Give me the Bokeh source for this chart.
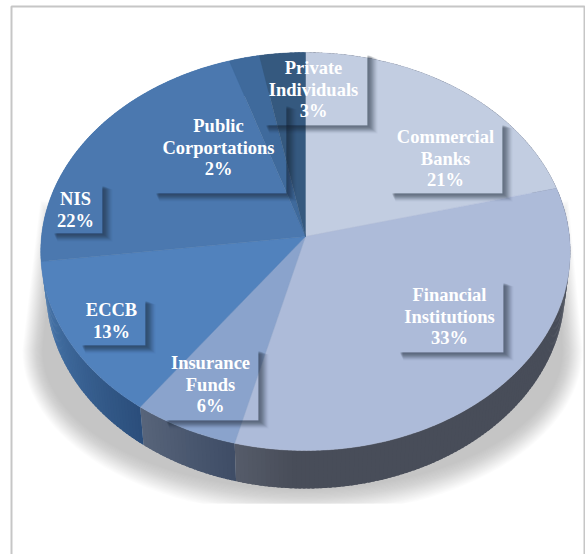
import math
from bokeh.plotting import figure
from bokeh.core.properties import value
from bokeh.embed import file_html
from bokeh.resources import INLINE

# Data
categories = ["Commercial\nBanks", "Financial\nInstitutions", "Insurance\nFunds", "ECCB", "NIS",
              "Public\nCorportations", "Private\nIndividuals"]
shares = [21, 33, 6, 13, 22, 2, 3]

# Styles
top_colors = ["#c2cde1", "#adbbd9", "#8aa3cc", "#5182bd", "#4b78af", "#3f6a9c", "#35597f"]
wall_colors = [("#484d59", "#484d59"), ("#484d59", "#565c6a"), ("#3e4d66", "#58647a"),
               ("#2b4e7b", "#4c7cb2"), ("#4c7cb2", "#4c7cb2"), ("#3f6a9c", "#3f6a9c"), ("#35597f", "#35597f")]

# Layout: label boxes (left, right, top, bottom) and text centre x, first line y
boxes = [(388, 502, 122, 193), (396, 503, 280, 352), (162, 258, 348, 420), (78, 145, 298, 345),
         (50, 102, 183, 233), (152, 286, 103, 193), (262, 367, 52, 125)]
text_pos = [(445, 136.5), (449, 294.5), (210, 362.5), (111, 309.5), (75, 198.5), (218, 125.5), (313, 67.5)]
line_step = 21.6
W, H = 585, 554
CX, CY, A, B, K = 305, 236, 264, 197.9, 0.0754
DEPTH, WALL_SCALE = 38, 0.98


def rim(frac):
    th = 2 * math.pi * frac
    sx, cy = math.sin(th), math.cos(th)
    d = 1 + K * cy
    return CX + A * sx / d, CY - B * cy / d


def rim_low(frac):
    x, y = rim(frac)
    return CX + (x - CX) * WALL_SCALE, y + DEPTH


def mix(c1, c2, t):
    a = [int(c1[i:i + 2], 16) for i in (1, 3, 5)]
    b = [int(c2[i:i + 2], 16) for i in (1, 3, 5)]
    return "#%02x%02x%02x" % tuple(round(u + (v - u) * t) for u, v in zip(a, b))


p = figure(width=W, height=H, x_range=(0, W), y_range=(H, 0), output_backend="svg", toolbar_location=None,
           x_axis_location=None, y_axis_location=None, min_border=0, outline_line_color=None,
           background_fill_color="white", border_fill_color="white")
p.grid.visible = False
p.styles = {"position": "absolute", "left": "0px", "top": "0px"}

# Frame
p.line([11, 11, 584, 584], [H, 6, 6, H], line_color="#c6c6c6", line_width=2)

# Soft shadow under the pie
layers = 22
for i in range(layers):
    t = i / (layers - 1)
    rx, ry = 280 - 20 * t, 165 - 26 * t
    xs, ys = [], []
    xs.append(40 + 14 * t); ys.append(200 + 30 * t)
    for k in range(61):
        phi = math.pi - math.pi * k / 60
        xs.append(302 + rx * math.cos(phi))
        ys.append(min(503, 350 + ry * math.sin(phi)))
    xs.append(568 - 12 * t); ys.append(200 + 30 * t)
    p.patch(xs, ys, fill_color="#808080", fill_alpha=0.022, line_color=None)

total = sum(shares)
# Side wall, split into gradient steps that overlap so no seams show
cum = 0
for s, (c0, c1) in zip(shares, wall_colors):
    f0, f1 = cum / total, (cum + s) / total
    n = s * 4
    step = (f1 - f0) / n
    for k in range(n):
        a = f0 + step * k
        b = min(f1, a + step * 1.6)
        tt = (k + .5) / n
        if s == 33:
            tt = max(0, (tt - .9) / .1)
        pts = [a + (b - a) * j / 3 for j in range(4)]
        up = [rim(v) for v in pts]
        lo = [rim_low(v) for v in reversed(pts)]
        p.patch([q[0] for q in up + lo], [q[1] for q in up + lo], fill_color=mix(c0, c1, tt), line_color=None)
    cum += s

# Top faces
cum = 0
for s, c in zip(shares, top_colors):
    n = max(12, s * 3)
    pts = [rim((cum + s * j / n) / total) for j in range(n + 1)]
    p.patch([CX] + [q[0] for q in pts], [CY] + [q[1] for q in pts], fill_color=c, line_color=c, line_width=0.4)
    cum += s

# Label box shadows (outside the transparent box only)
for x0, x1, y0, y1 in boxes:
    for d, al in [(10, .03), (9, .05), (8, .07), (7, .08), (6, .09), (5, .10), (4, .10), (3, .09), (2, .07), (1, .05)]:
        dy = d * 0.8
        xs = [x1, x1 + d, x1 + d, x0 + 3 + d * .4, x0 + 3 + d * .4, x1]
        ys = [y0 + 2 + d * .4, y0 + 2 + d * .4, y1 + dy, y1 + dy, y1, y1]
        p.patch(xs, ys, fill_color="#1a2433", fill_alpha=al, line_color=None)

# Label text
for cat, s, (tx, ty) in zip(categories, shares, text_pos):
    lines = cat.split("\n") + [f"{s}%"]
    p.text([tx] * len(lines), [ty + i * line_step for i in range(len(lines))], text=lines,
           text_font=value("Liberation Serif"), text_font_style="bold", text_font_size="18.5px",
           text_color="#ffffff", text_align="center", text_baseline="middle")

open("out.html", "w").write(file_html(p, INLINE))
